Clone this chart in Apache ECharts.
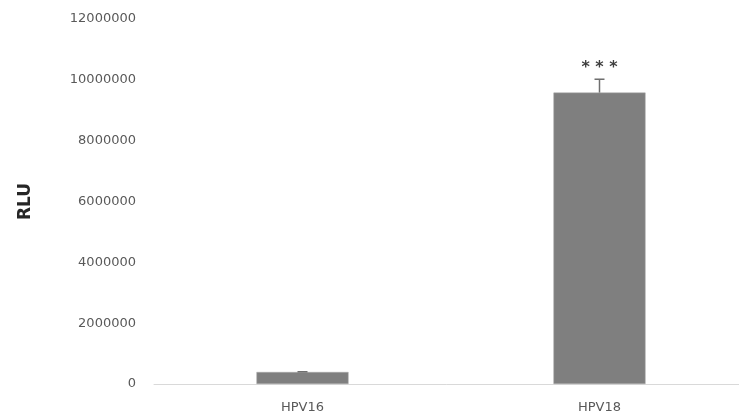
<!DOCTYPE html>
<html>
<head>
<meta charset="utf-8">
<script src="https://cdn.jsdelivr.net/npm/echarts@6/dist/echarts.min.js"></script>
<style>
  html, body { margin: 0; padding: 0; background: #fff; }
  #chart { width: 739px; height: 419px; }
</style>
</head>
<body>
<div id="chart"></div>
<script>
var categories = ['HPV16', 'HPV18']
var rluValues = [395000, 9580000]
var rluErrors = [8000, 440000]
var significance = ['', '***']

var chart = echarts.init(document.getElementById('chart'))

var errorData = categories.map(function (c, i) {
  return [i, rluValues[i], rluErrors[i]]
})

var option = {
  animation: false,
  grid: {
    left: 154,
    top: 19,
    bottom: 35,
    width: 594,
    outerBoundsMode: 'none'
  },
  xAxis: {
    type: 'category',
    data: categories,
    axisLine: { lineStyle: { color: '#d9d9d9', width: 1 } },
    axisTick: { show: false },
    axisLabel: {
      color: '#595959',
      fontFamily: 'DejaVu Sans',
      fontSize: 13,
      margin: 17
    }
  },
  yAxis: {
    type: 'value',
    min: 0,
    max: 12000000,
    interval: 2000000,
    name: 'RLU',
    nameLocation: 'middle',
    nameGap: 120,
    nameTextStyle: {
      color: '#262626',
      fontFamily: 'DejaVu Sans',
      fontWeight: 'bold',
      fontSize: 17
    },
    axisLine: { show: false },
    axisTick: { show: false },
    splitLine: { show: false },
    axisLabel: {
      color: '#595959',
      fontFamily: 'DejaVu Sans',
      fontSize: 13,
      margin: 18,
      formatter: function (v) { return String(v) }
    }
  },
  series: [
    {
      type: 'bar',
      data: rluValues,
      barWidth: '31%',
      itemStyle: { color: '#7f7f7f', borderColor: '#a6a6a6', borderWidth: 0.5 }
    },
    {
      type: 'custom',
      data: errorData,
      z: 10,
      renderItem: function (params, api) {
        var x = api.value(0)
        var v = api.value(1)
        var e = api.value(2)
        var top = api.coord([x, v + e])
        var base = api.coord([x, v])
        var cap = 5
        var children = [
          { type: 'line', shape: { x1: base[0], y1: base[1], x2: top[0], y2: top[1] }, style: { stroke: '#6f6f6f', lineWidth: 1.5 } },
          { type: 'line', shape: { x1: top[0] - cap, y1: top[1], x2: top[0] + cap, y2: top[1] }, style: { stroke: '#6f6f6f', lineWidth: 1.5 } }
        ]
        var sig = significance[params.dataIndex]
        if (sig) {
          children.push({
            type: 'text',
            x: top[0],
            y: top[1] - 3,
            style: {
              // spaced out like the source figure
              text: sig.split('').join(' '),
              fill: '#404040',
              font: 'bold 16px "DejaVu Sans"',
              align: 'center',
              verticalAlign: 'bottom'
            }
          })
        }
        return { type: 'group', children: children }
      }
    }
  ]
}

chart.setOption(option)
</script>
</body>
</html>
